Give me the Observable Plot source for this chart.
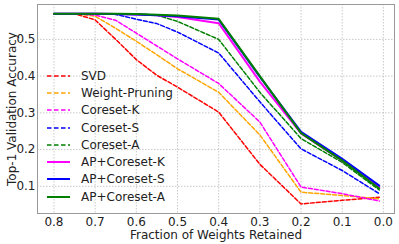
<!DOCTYPE html>
<html>
<head>
<meta charset="utf-8">
<script src="https://cdn.jsdelivr.net/npm/d3@7"></script>
<script src="https://cdn.jsdelivr.net/npm/@observablehq/plot@0.6"></script>
<style>
  html, body { margin: 0; padding: 0; background: #fff; }
  #wrap { position: relative; width: 399px; height: 244px; font-family: "DejaVu Sans", sans-serif; }
  #legend { position: absolute; left: 47px; top: 67px; font-size: 12px; color: #222; }
  .row { display: flex; align-items: center; height: 17.3px; white-space: nowrap; }
  .row svg { margin-right: 11px; }
</style>
</head>
<body>
<div id="wrap"><div id="legend"></div></div>
<script>
// Fraction of weights retained (x positions of the points)
const fractions = [0.8, 0.75, 0.7, 0.65, 0.6, 0.55, 0.5, 0.4, 0.3, 0.2, 0.1, 0.01];

// Top-1 validation accuracy per method
const svd          = [0.570, 0.570, 0.553, 0.500, 0.445, 0.402, 0.370, 0.302, 0.160, 0.052, 0.062, 0.070];
const weightPrune  = [0.570, 0.570, 0.563, 0.530, 0.495, 0.458, 0.420, 0.356, 0.240, 0.084, 0.075, 0.066];
const coresetK     = [0.570, 0.570, 0.566, 0.552, 0.517, 0.482, 0.447, 0.380, 0.275, 0.098, 0.080, 0.060];
const coresetS     = [0.570, 0.570, 0.570, 0.568, 0.555, 0.543, 0.520, 0.463, 0.330, 0.202, 0.143, 0.080];
const coresetA     = [0.570, 0.570, 0.570, 0.570, 0.569, 0.566, 0.549, 0.500, 0.356, 0.230, 0.165, 0.090];
const apCoresetK   = [0.570, 0.570, 0.570, 0.569, 0.568, 0.566, 0.561, 0.544, 0.385, 0.244, 0.170, 0.098];
const apCoresetS   = [0.570, 0.570, 0.570, 0.569, 0.568, 0.566, 0.563, 0.554, 0.398, 0.248, 0.175, 0.102];
const apCoresetA   = [0.570, 0.570, 0.570, 0.570, 0.569, 0.567, 0.565, 0.556, 0.400, 0.245, 0.170, 0.094];

const seriesNames  = ["SVD", "Weight-Pruning", "Coreset-K", "Coreset-S", "Coreset-A", "AP+Coreset-K", "AP+Coreset-S", "AP+Coreset-A"];
const seriesValues = [svd, weightPrune, coresetK, coresetS, coresetA, apCoresetK, apCoresetS, apCoresetA];
const seriesColors = ["red", "orange", "magenta", "blue", "green", "magenta", "blue", "green"];
const seriesDashed = [true, true, true, true, true, false, false, false];

const xTicks = [0.8, 0.7, 0.6, 0.5, 0.4, 0.3, 0.2, 0.1, 0.0];
const yTicks = [0.1, 0.2, 0.3, 0.4, 0.5];

const rows = seriesNames.flatMap((name, i) =>
  fractions.map((f, j) => ({series: name, x: f, y: seriesValues[i][j]})));

const lineMarks = seriesNames.map((name, i) =>
  Plot.line(rows.filter(d => d.series === name), {
    x: "x", y: "y",
    stroke: seriesColors[i],
    strokeWidth: seriesDashed[i] ? 1.5 : 2,
    strokeDasharray: seriesDashed[i] ? "4,2" : null
  }));

const chart = Plot.plot({
  width: 399,
  height: 244,
  marginLeft: 37,
  marginRight: 5,
  marginTop: 4,
  marginBottom: 31,
  style: {fontFamily: "DejaVu Sans, sans-serif", fontSize: "12px", color: "#222", background: "#fff"},
  x: {domain: [0.84, -0.027]},
  y: {domain: [0.026, 0.595]},
  marks: [
    Plot.gridX(xTicks, {stroke: "#bbb", strokeOpacity: 1, strokeWidth: 0.8, strokeDasharray: "1.5,1.5"}),
    Plot.gridY(yTicks, {stroke: "#bbb", strokeOpacity: 1, strokeWidth: 0.8, strokeDasharray: "1.5,1.5"}),
    Plot.axisX(xTicks, {tickSize: 0, tickPadding: 4, tickFormat: d3.format(".1f"), fontSize: 12,
      label: "Fraction of Weights Retained", labelAnchor: "center", labelArrow: "none", labelOffset: 25}),
    Plot.axisY(yTicks, {tickSize: 0, tickPadding: 2, tickFormat: d3.format(".1f"), fontSize: 12,
      label: "Top-1 Validation Accuracy", labelAnchor: "center", labelArrow: "none", labelOffset: 30}),
    ...lineMarks,
    Plot.frame({stroke: "#999", strokeWidth: 1})
  ]
});
document.getElementById("wrap").prepend(chart);

const legend = document.getElementById("legend");
seriesNames.forEach((name, i) => {
  const row = document.createElement("div");
  row.className = "row";
  const dash = seriesDashed[i] ? 'stroke-dasharray="4.5,2.5"' : "";
  row.innerHTML = `<svg width="23" height="6"><line x1="0" y1="3" x2="23" y2="3" stroke="${seriesColors[i]}" stroke-width="${seriesDashed[i] ? 1.5 : 2}" ${dash}/></svg><span>${name}</span>`;
  legend.appendChild(row);
});
</script>
</body>
</html>
